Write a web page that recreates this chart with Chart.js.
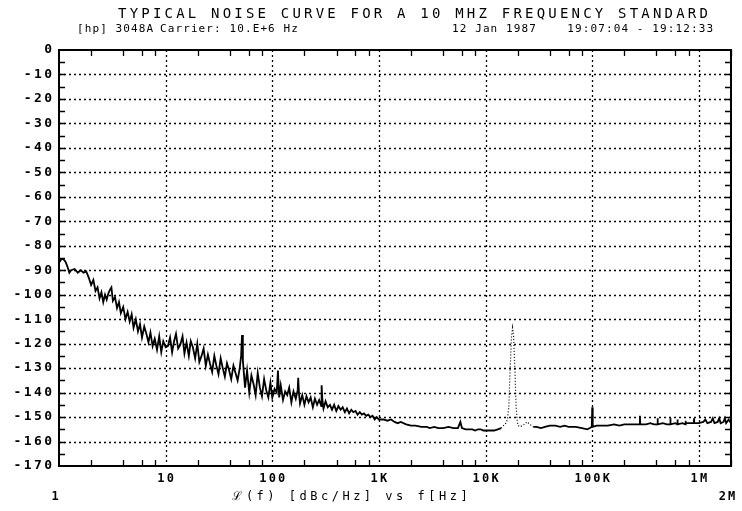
<!DOCTYPE html>
<html>
<head>
<meta charset="utf-8">
<script src="https://cdn.jsdelivr.net/npm/chart.js@4/dist/chart.umd.min.js"></script>
<style>
  html, body { margin: 0; background: #fff; }
</style>
</head>
<body>
<canvas id="chart" width="742" height="511"></canvas>
<script>
"use strict";

const TITLE = "TYPICAL NOISE CURVE FOR A 10 MHZ FREQUENCY STANDARD";
const SUBTITLE = ["[hp] 3048A", "Carrier: 10.E+6 Hz", "12 Jan 1987", "19:07:04 - 19:12:33"];
const AXIS_TITLE = "\u2112(f) [dBc/Hz] vs f[Hz]";

const decadeTicks = [10, 100, 1e3, 1e4, 1e5, 1e6];
const decadeLabels = ["10", "100", "1K", "10K", "100K", "1M"];
const levelTicks = [0, -10, -20, -30, -40, -50, -60, -70, -80, -90, -100, -110, -120, -130, -140, -150, -160, -170];
const minorMult = [2, 4, 6, 8];

// 1 Hz .. 14 kHz, solid trace
const lowFreq = [
  1, 1.05, 1.1, 1.15, 1.2, 1.25, 1.3, 1.4, 1.5, 1.6, 1.7, 1.8, 1.9,
  2.0, 2.1, 2.2, 2.3, 2.4, 2.5, 2.6, 2.7, 2.8, 2.9,
  3.0, 3.1, 3.2, 3.35, 3.5, 3.65, 3.8, 4.0, 4.2, 4.4,
  4.6, 4.8, 5.0, 5.25, 5.5, 5.75, 6.0, 6.3, 6.6, 6.9,
  7.2, 7.55, 7.9, 8.3, 8.7, 9.1, 9.5, 10,
  10.5, 11, 11.5, 12, 12.5, 13.1, 13.7, 14.4, 15, 15.7,
  16.5, 17.2, 18, 18.9, 19.8, 20.7, 21.7, 22.7, 23.8, 24.9,
  26, 27.3, 28.6, 29.9, 31.3, 32.8, 34.3, 35.9, 37.6, 39.4,
  41.2, 43.2, 45.2, 47.3, 49.5, 51, 52, 53, 55.5, 58,
  60.8, 63.7, 66.7, 69.8, 73, 76.5, 80, 83.8, 87.7, 91.8,
  96, 100, 105, 110, 113, 116, 120, 126, 132, 138,
  144, 151, 158, 166, 173, 175, 178, 182, 191, 200,
  209, 219, 229, 240, 251, 263, 275, 288, 290, 295,
  302, 316, 331, 347, 363, 380, 398, 417, 437, 457,
  479, 501, 525, 550, 575, 603, 631, 661, 692, 724,
  759, 794, 832, 871, 912, 955, 1000,
  1100, 1200, 1300, 1400, 1500, 1600, 1800, 2000, 2200, 2500,
  2800, 3000, 3300, 3600, 4000, 4500, 5000, 5500, 5800, 6000,
  6500, 7000, 7500, 8000, 8500, 9000, 9500, 10000, 11000, 12000,
  13000, 14000
];
const lowLevel = [
  -87, -85.5, -85.5, -86.5, -88.5, -91, -90, -89.5, -91, -90, -91, -90.5, -93,
  -96, -94, -98.5, -97, -101.5, -99, -103, -100, -102, -99.5,
  -98, -97, -102.5, -101, -105.5, -103, -107.5, -105, -110, -107,
  -111, -108, -113.5, -110, -115, -112, -117.5, -113, -116, -119.5,
  -115.5, -121, -118, -122.5, -117, -123.5, -119, -121.5,
  -121, -117.5, -123.5, -119, -116, -122, -120.5, -117, -124, -119.5,
  -125, -119, -121.5, -126, -120, -127.5, -125, -122, -129, -124.5,
  -128, -131.5, -125, -129, -132.5, -126, -130, -133.5, -128, -131,
  -134.5, -129, -132, -135, -130, -125, -116.5, -127, -138, -131,
  -140, -133, -136.5, -141, -132, -138, -141.5, -134.5, -139, -142,
  -136, -142, -138.5, -140, -131, -142, -137, -143, -139.5, -141,
  -138, -144, -139.5, -142.5, -139, -134, -140.5, -144.5, -141, -145,
  -141.5, -144, -142, -146, -142.5, -145, -143, -145.5, -137, -143,
  -146.5, -143.5, -146, -145, -147, -145, -147.5, -145.5, -147, -146,
  -148, -146.5, -148.5, -147, -148, -147.5, -149, -148, -149, -148.5,
  -149.5, -149, -150, -149.5, -151, -150, -151,
  -151, -151.5, -151, -152, -152.5, -152, -153, -153.5, -153.5, -154,
  -154, -154.5, -154, -154.5, -154.5, -154, -154.5, -154.5, -152, -154.5,
  -155, -155, -155, -155.5, -155, -155, -155.5, -155.5, -155.5, -155.5,
  -155, -154.5
];

// 14 kHz .. 28 kHz, dotted trace with the spur near 18 kHz
const spurFreq = [14000, 14500, 15000, 15500, 16000, 16500, 17000, 17500, 17900, 18300, 18800, 19300, 19800, 20300, 21000, 22000, 23000, 24500, 26000, 28000];
const spurLevel = [-154.5, -154, -153, -152.5, -151, -146, -130, -117, -113.5, -117, -130, -145, -152, -153.5, -154, -153.5, -153, -152, -153, -154];

// 28 kHz .. 2 MHz, solid trace
const highFreq = [
  28000, 30000, 33000, 36000, 40000, 45000, 50000, 55000, 60000, 70000,
  80000, 90000, 95000, 99000, 100000, 101000, 110000, 120000, 140000, 160000,
  180000, 200000, 230000, 260000, 278000, 280000, 282000, 320000, 350000, 380000,
  408000, 410000, 412000, 460000, 500000, 538000, 540000, 543000, 600000, 628000,
  630000, 633000, 700000, 748000, 750000, 753000, 850000, 898000, 900000, 903000,
  1000000, 1100000, 1150000, 1200000, 1300000, 1350000, 1400000, 1500000, 1550000, 1600000,
  1700000, 1750000, 1800000, 1900000, 2000000
];
const highLevel = [
  -154, -154, -154.5, -154, -153.5, -153.5, -154, -153.5, -154, -154,
  -154.5, -155, -154.5, -154, -146, -154, -153.5, -153.5, -153.5, -153,
  -153.5, -153, -153, -153, -153, -149.5, -153, -153, -152.5, -153,
  -153, -150.5, -153, -152.5, -153, -153, -150.5, -153, -152.5, -153,
  -151, -153, -152.5, -153, -151.5, -152.5, -152.5, -152.5, -150.5, -152.5,
  -152.5, -152, -151, -152.5, -152, -150.5, -152.5, -152, -150.5, -152.5,
  -152, -150.5, -152.5, -151, -152.5
];

const FONT = '"DejaVu Sans Mono", "Liberation Mono", monospace';

function points(freqs, levels) {
  return freqs.map((f, i) => ({ x: f, y: levels[i] }));
}

function text(ctx, str, x, y, font, spacing, align) {
  ctx.font = `${font} ${FONT}`;
  ctx.letterSpacing = `${spacing}px`;
  ctx.textAlign = align;
  ctx.textBaseline = "middle";
  // letterSpacing adds a trailing gap; compensate so alignment matches
  const shift = align === "right" ? spacing : align === "center" ? spacing / 2 : 0;
  ctx.fillText(str, x + shift, y);
}

const plotterFrame = {
  id: "plotterFrame",
  beforeDatasetsDraw(chart) {
    const { ctx, chartArea: a, scales } = chart;
    ctx.save();
    ctx.strokeStyle = "#000";
    ctx.lineWidth = 1.3;
    ctx.setLineDash([2, 3]);
    decadeTicks.forEach((v) => {
      const x = Math.round(scales.x.getPixelForValue(v)) + 0.5;
      ctx.beginPath();
      ctx.moveTo(x, a.top);
      ctx.lineTo(x, a.bottom);
      ctx.stroke();
    });
    levelTicks.slice(1, -1).forEach((v) => {
      const y = Math.round(scales.y.getPixelForValue(v)) + 0.5;
      ctx.beginPath();
      ctx.moveTo(a.left, y);
      ctx.lineTo(a.right, y);
      ctx.stroke();
    });
    ctx.restore();
  },
  afterDraw(chart) {
    const { ctx, chartArea: a, scales } = chart;
    ctx.save();
    ctx.strokeStyle = "#000";
    ctx.fillStyle = "#000";

    // minor ticks
    ctx.lineWidth = 1.3;
    for (let d = 1; d <= 1e6; d *= 10) {
      minorMult.forEach((m) => {
        const v = d * m;
        if (v > 2e6) return;
        const x = Math.round(scales.x.getPixelForValue(v)) + 0.5;
        ctx.beginPath();
        ctx.moveTo(x, a.top);
        ctx.lineTo(x, a.top + 6);
        ctx.moveTo(x, a.bottom);
        ctx.lineTo(x, a.bottom - 6);
        ctx.stroke();
      });
    }
    for (let v = -5; v > -170; v -= 5) {
      const y = Math.round(scales.y.getPixelForValue(v)) + 0.5;
      ctx.beginPath();
      ctx.moveTo(a.left, y);
      ctx.lineTo(a.left + 6, y);
      ctx.moveTo(a.right, y);
      ctx.lineTo(a.right - 6, y);
      ctx.stroke();
    }

    // frame
    ctx.lineWidth = 2;
    ctx.strokeRect(a.left, a.top, a.right - a.left, a.bottom - a.top);

    // tick labels
    levelTicks.forEach((v) => {
      text(ctx, String(v), a.left - 7, scales.y.getPixelForValue(v), "bold 13px", 2.4, "right");
    });
    decadeTicks.forEach((v, i) => {
      text(ctx, decadeLabels[i], scales.x.getPixelForValue(v), a.bottom + 13, "bold 12px", 2.2, "center");
    });
    text(ctx, "1", scales.x.getPixelForValue(1) - 4, a.bottom + 31, "bold 12px", 2.2, "center");
    text(ctx, "2M", scales.x.getPixelForValue(2e6) - 4, a.bottom + 31, "bold 12px", 2.2, "center");
    text(ctx, AXIS_TITLE, 350, a.bottom + 31, "12px", 3.5, "center");

    // headings
    text(ctx, TITLE, 118, 14, "14px", 3.2, "left");
    text(ctx, SUBTITLE[0], 77, 29, "11px", 1.1, "left");
    text(ctx, SUBTITLE[1], 160, 29, "11px", 1.1, "left");
    text(ctx, SUBTITLE[2], 452, 29, "11px", 1.1, "left");
    text(ctx, SUBTITLE[3], 713, 29, "11px", 1.1, "right");
    ctx.restore();
  },
};

const trace = { borderColor: "#000", pointRadius: 0, fill: false, tension: 0 };

new Chart(document.getElementById("chart"), {
  type: "line",
  data: {
    datasets: [
      { ...trace, data: points(lowFreq, lowLevel), borderWidth: 1.8 },
      { ...trace, data: points(spurFreq, spurLevel), borderWidth: 1.2, borderDash: [1, 2] },
      { ...trace, data: points(highFreq, highLevel), borderWidth: 1.8 },
    ],
  },
  options: {
    responsive: false,
    animation: false,
    events: [],
    layout: { padding: { top: 50, right: 11, left: 0, bottom: 0 } },
    plugins: { legend: { display: false }, title: { display: false }, tooltip: { enabled: false } },
    scales: {
      x: {
        type: "logarithmic",
        min: 1,
        max: 2e6,
        ticks: { display: false },
        grid: { display: false },
        border: { display: false },
        afterFit: (s) => { s.height = 45; },
      },
      y: {
        type: "linear",
        min: -170,
        max: 0,
        ticks: { display: false },
        grid: { display: false },
        border: { display: false },
        afterFit: (s) => { s.width = 59; },
      },
    },
  },
  plugins: [plotterFrame],
});
</script>
</body>
</html>
